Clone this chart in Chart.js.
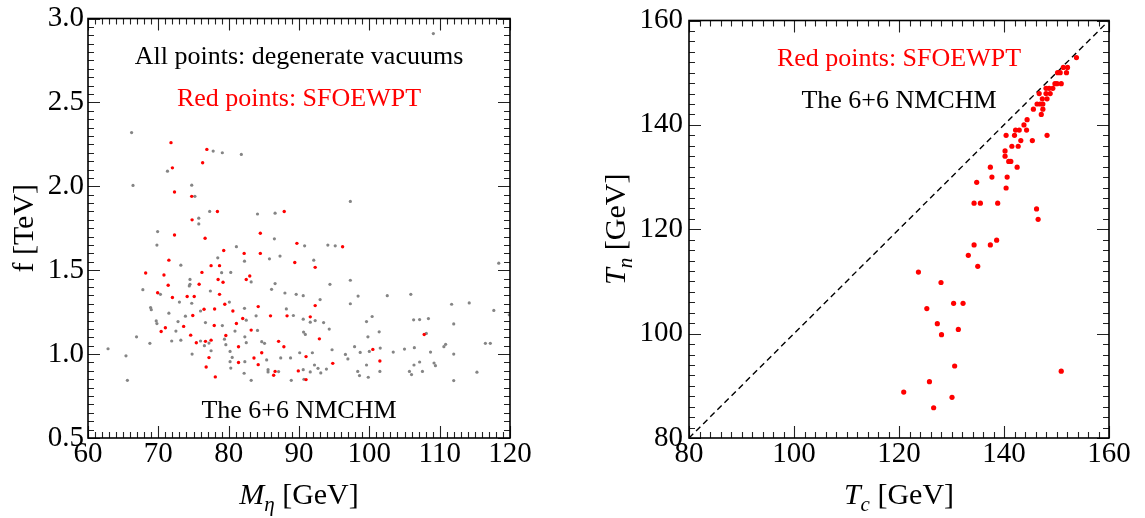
<!DOCTYPE html>
<html>
<head>
<meta charset="utf-8">
<script src="https://cdn.jsdelivr.net/npm/chart.js@4"></script>
<style>
  body { margin: 0; background: #fff; }
  #wrap { position: relative; width: 1145px; height: 518px; }
  #left { position: absolute; left: 0; top: 0; }
  #right { position: absolute; left: 572px; top: 0; }
</style>
</head>
<body>
<div id="wrap">
  <canvas id="left" width="572" height="518"></canvas>
  <canvas id="right" width="573" height="518"></canvas>
</div>
<script>
// Left panel: scan points, mass of eta [GeV] vs f [TeV]
const grayMass = [109.1, 66.2, 77.8, 79.1, 81.8, 71.3, 66.4, 74.75, 75.2, 77.3, 86.6, 84.1, 97.3, 75.75, 75.75,
  69.9, 86.5, 69.8, 81.1, 90.8, 94.1, 95.15, 87.3, 85.8, 78.45, 82.25, 92.1, 73.2, 118.4, 79.0, 80.3, 83.2,
  74.5, 74.5, 74.4, 86.6, 94.4, 97.3, 86.1, 67.8, 77.4, 70.3, 88.0, 89.6, 90.6, 98.4, 102.55, 105.9, 93.0,
  73.0, 80.1, 74.75, 97.3, 111.7, 114.2, 68.9, 69.0, 82.25, 88.2, 117.7, 76.0, 71.5, 73.85, 83.9, 89.2, 82.5,
  100.4, 107.15, 108.4, 106.3, 90.6, 69.7, 72.8, 91.6, 92.3, 93.5, 99.6, 112.0, 76.7, 69.8, 79.1, 72.5, 84.1,
  94.3, 101.4, 80.9, 90.65, 90.9, 108.1, 66.9, 82.3, 99.8, 73.2, 71.9, 79.4, 76.0, 77.2, 68.8, 82.5, 84.7,
  85.1, 79.6, 76.55, 110.85, 110.6, 62.85, 97.9, 101.55, 105.0, 106.4, 116.5, 117.2, 77.5, 94.7, 100.0, 80.2,
  90.1, 91.9, 96.6, 98.7, 103.4, 108.7, 112.0, 74.8, 65.4, 80.5, 87.4, 96.95, 88.8, 85.4, 80.2, 82.3, 107.15,
  109.2, 109.4, 92.2, 106.35, 99.6, 80.3, 92.7, 93.9, 85.6, 90.6, 98.35, 101.5, 105.7, 107.55, 115.3, 85.6,
  87.1, 91.6, 93.1, 82.2, 106.0, 98.6, 99.85, 65.6, 83.2, 88.9, 90.7, 112.0, 119.9];
const grayF = [2.91, 2.32, 2.21, 2.20, 2.19, 2.09, 2.005, 2.007, 1.94, 1.85, 1.84, 1.835, 1.91, 1.81, 1.776,
  1.73, 1.687, 1.65, 1.64, 1.645, 1.65, 1.645, 1.584, 1.568, 1.574, 1.554, 1.56, 1.53, 1.542, 1.485, 1.487, 1.43,
  1.445, 1.416, 1.406, 1.42, 1.416, 1.44, 1.386, 1.384, 1.376, 1.356, 1.364, 1.356, 1.348, 1.346, 1.348, 1.356, 1.325,
  1.31, 1.31, 1.303, 1.30, 1.297, 1.305, 1.277, 1.265, 1.273, 1.269, 1.26, 1.257, 1.244, 1.226, 1.228, 1.23, 1.202,
  1.224, 1.206, 1.212, 1.204, 1.208, 1.198, 1.194, 1.19, 1.20, 1.188, 1.194, 1.18, 1.188, 1.182, 1.17, 1.137, 1.141,
  1.149, 1.133, 1.137, 1.131, 1.117, 1.123, 1.103, 1.103, 1.103, 1.083, 1.078, 1.089, 1.078, 1.066, 1.064, 1.068, 1.074,
  1.064, 1.056, 1.05, 1.058, 1.044, 1.032, 1.044, 1.036, 1.03, 1.038, 1.064, 1.064, 1.02, 1.026, 1.016, 1.016,
  1.008, 1.008, 0.998, 1.01, 1.012, 1.012, 1.0, 1.0, 0.99, 0.98, 0.977, 0.971, 0.977, 0.965, 0.955, 0.955, 0.953,
  0.947, 0.931, 0.935, 0.935, 0.935, 0.917, 0.915, 0.911, 0.907, 0.907, 0.897, 0.897, 0.897, 0.897, 0.892, 0.894,
  0.896, 0.894, 0.888, 0.886, 0.878, 0.872, 0.862, 0.844, 0.844, 0.844, 0.85, 0.842, 1.234];

// SFOEWPT subset
const redMass = [71.8, 76.9, 76.3, 72.0, 72.3, 74.75, 78.4, 87.9, 74.8, 72.3, 84.5, 76.65, 89.7, 96.2, 79.3,
  82.2, 84.5, 71.5, 89.4, 77.5, 78.7, 92.3, 68.2, 76.2, 70.8, 83.0, 82.5, 78.5, 79.2, 75.8, 71.4, 69.9, 78.7,
  74.1, 75.1, 72.0, 79.45, 92.3, 84.2, 76.5, 78.0, 80.6, 85.95, 88.3, 74.9, 91.6, 82.0, 81.1, 73.6, 77.95, 71.0,
  70.4, 83.2, 107.8, 74.6, 79.6, 92.9, 77.5, 87.1, 75.4, 76.7, 81.4, 87.85, 100.5, 84.7, 77.2, 91.0, 83.6,
  101.5, 81.4, 94.8, 84.2, 76.8, 89.9, 86.6, 86.4, 78.1, 91.0];
const redF = [2.26, 2.22, 2.14, 2.11, 1.966, 1.94, 1.85, 1.85, 1.80, 1.71, 1.72, 1.69, 1.66, 1.64, 1.617,
  1.60, 1.60, 1.56, 1.546, 1.527, 1.527, 1.517, 1.483, 1.487, 1.471, 1.465, 1.445, 1.445, 1.428, 1.416, 1.41, 1.366, 1.356,
  1.343, 1.343, 1.337, 1.297, 1.289, 1.283, 1.267, 1.269, 1.257, 1.228, 1.228, 1.23, 1.222, 1.212, 1.182, 1.165, 1.17, 1.157,
  1.135, 1.143, 1.117, 1.113, 1.111, 1.091, 1.083, 1.076, 1.068, 1.076, 1.044, 1.044, 1.028, 1.008, 0.979, 0.985, 0.977,
  0.959, 0.95, 0.945, 0.937, 0.923, 0.9, 0.897, 0.874, 0.864, 0.848];

// Right panel: critical vs nucleation temperature [GeV]
const critTemp = [153.8, 151.3, 152.1, 150.2, 150.7, 151.9, 149.7, 150.1, 150.9, 149.3, 148.0, 148.6, 146.7, 148.0,
  148.8, 147.3, 148.2, 146.3, 146.9, 147.4, 145.6, 147.4, 147.1, 144.4, 143.8, 142.2, 142.9, 144.3, 140.4, 142.0,
  148.2, 143.2, 145.4, 141.5, 142.7, 140.2, 140.2, 140.9, 141.3, 137.4, 142.5, 137.7, 140.6, 134.8, 140.4, 134.3,
  135.5, 138.8, 146.2, 146.5, 134.3, 137.4, 138.6, 133.2, 135.0, 123.7, 128.0, 130.4, 132.2, 125.3, 127.3, 131.3,
  128.1, 130.6, 150.9, 125.8, 120.9, 130.1, 126.6];
const nuclTemp = [152.9, 151.0, 151.0, 150.0, 150.0, 150.0, 147.9, 147.9, 147.9, 147.0, 147.0, 147.0, 146.0, 146.0,
  146.0, 145.0, 145.0, 144.0, 144.0, 144.0, 143.0, 143.0, 142.0, 141.0, 140.0, 139.0, 139.0, 139.0, 138.0, 138.0,
  138.0, 137.0, 137.0, 135.9, 135.9, 135.0, 134.0, 133.0, 133.0, 131.9, 131.9, 130.0, 130.0, 129.0, 127.9, 125.0,
  125.0, 125.0, 123.9, 121.9, 117.0, 117.0, 117.9, 115.0, 112.9, 111.8, 109.8, 105.8, 105.8, 104.8, 101.9, 100.8,
  99.8, 93.8, 92.8, 90.8, 88.8, 87.8, 85.8];
const diagonal = [80, 160];

const SERIF = '"Liberation Serif", "Times New Roman", serif';
Chart.defaults.font.family = SERIF;
Chart.defaults.color = '#000';

const pts = (xs, ys) => xs.map((v, i) => ({ x: v, y: ys[i] }));

function stepsBetween(min, max, step) {
  const out = [];
  const n = Math.round((max - min) / step);
  for (let i = 0; i <= n; i++) out.push(min + i * step);
  return out;
}

// rich text: italic letters and subscripts for axis titles
function drawRich(ctx, parts, cx, cy, angle) {
  ctx.save();
  ctx.translate(cx, cy);
  ctx.rotate(angle);
  const fontOf = p => (p.italic ? 'italic ' : '') + (p.sub ? 21 : 30) + 'px ' + SERIF;
  let total = 0;
  parts.forEach(p => { ctx.font = fontOf(p); total += ctx.measureText(p.text).width; });
  let pos = -total / 2;
  ctx.fillStyle = '#000';
  ctx.textBaseline = 'alphabetic';
  ctx.textAlign = 'left';
  parts.forEach(p => {
    ctx.font = fontOf(p);
    ctx.fillText(p.text, pos, p.sub ? 17 : 10);
    pos += ctx.measureText(p.text).width;
  });
  ctx.restore();
}

// boxed frame with inward ticks on all four sides, titles and notes
const framePlugin = {
  id: 'frame',
  afterDatasetsDraw(chart, args, opts) {
    const { ctx, chartArea: a, scales: { x, y } } = chart;
    ctx.save();
    ctx.strokeStyle = '#222';
    ctx.lineWidth = 1.1;
    const isMajor = (scale, v, step) => scale.ticks.some(t => Math.abs(t.value - v) < step / 2);
    stepsBetween(x.min, x.max, opts.xMinor).forEach(v => {
      const px = Math.round(x.getPixelForValue(v)) + 0.5;
      const len = isMajor(x, v, opts.xMinor) ? 12 : 6;
      ctx.beginPath();
      ctx.moveTo(px, a.bottom); ctx.lineTo(px, a.bottom - len);
      ctx.moveTo(px, a.top); ctx.lineTo(px, a.top + len);
      ctx.stroke();
    });
    stepsBetween(y.min, y.max, opts.yMinor).forEach(v => {
      const py = Math.round(y.getPixelForValue(v)) + 0.5;
      const len = isMajor(y, v, opts.yMinor) ? 12 : 6;
      ctx.beginPath();
      ctx.moveTo(a.left, py); ctx.lineTo(a.left + len, py);
      ctx.moveTo(a.right, py); ctx.lineTo(a.right - len, py);
      ctx.stroke();
    });
    ctx.strokeStyle = '#000';
    ctx.lineWidth = 1.6;
    ctx.strokeRect(a.left, a.top, a.right - a.left, a.bottom - a.top);

    const cx = (a.left + a.right) / 2;
    drawRich(ctx, opts.xTitle, cx, opts.xTitleY, 0);
    drawRich(ctx, opts.yTitle, opts.yTitleX, (a.top + a.bottom) / 2, -Math.PI / 2);

    ctx.font = '26px ' + SERIF;
    ctx.textAlign = 'center';
    ctx.textBaseline = 'middle';
    opts.notes.forEach(n => {
      ctx.fillStyle = n.color;
      ctx.fillText(n.text, cx, n.y);
    });
    ctx.restore();
  }
};

function axisOptions(min, max, step, pad, fmt) {
  return {
    type: 'linear', min, max,
    grid: { display: false, drawTicks: false },
    border: { display: false },
    ticks: {
      stepSize: step, padding: pad, color: '#000',
      font: { family: SERIF, size: 29, lineHeight: 1 },
      callback: fmt || (v => String(v))
    }
  };
}

new Chart(document.getElementById('left'), {
  type: 'scatter',
  data: {
    datasets: [
      { data: pts(redMass, redF), backgroundColor: '#ff0000', borderWidth: 0, pointRadius: 1.7 },
      { data: pts(grayMass, grayF), backgroundColor: '#858585', borderWidth: 0, pointRadius: 1.6 }
    ]
  },
  options: {
    responsive: false, animation: false,
    layout: { padding: { top: 16, right: 62, left: 0, bottom: 0 } },
    scales: {
      x: Object.assign(axisOptions(60, 120, 10, 2), { afterFit(s) { s.height = 80; } }),
      y: Object.assign(axisOptions(0.5, 3.0, 0.5, 4, v => v.toFixed(1)), { afterFit(s) { s.width = 88; } })
    },
    plugins: {
      legend: { display: false }, tooltip: { enabled: false },
      frame: {
        xMinor: 1, yMinor: 0.05,
        xTitle: [{ text: 'M', italic: true }, { text: 'η', italic: true, sub: true }, { text: ' [GeV]' }],
        xTitleY: 494,
        yTitle: [{ text: 'f [TeV]' }],
        yTitleX: 23,
        notes: [
          { text: 'All points: degenerate vacuums', color: '#000', y: 57 },
          { text: 'Red points: SFOEWPT', color: '#ff0000', y: 99 },
          { text: 'The 6+6 NMCHM', color: '#000', y: 411 }
        ]
      }
    }
  },
  plugins: [framePlugin]
});

new Chart(document.getElementById('right'), {
  type: 'scatter',
  data: {
    datasets: [
      { data: pts(critTemp, nuclTemp), backgroundColor: '#ff0000', borderWidth: 0, pointRadius: 2.6 },
      {
        data: pts(diagonal, diagonal), showLine: true, pointRadius: 0,
        borderColor: '#000', borderWidth: 1.4, borderDash: [6, 4]
      }
    ]
  },
  options: {
    responsive: false, animation: false,
    layout: { padding: { top: 19, right: 36, left: 0, bottom: 0 } },
    scales: {
      x: Object.assign(axisOptions(80, 160, 20, 2), { afterFit(s) { s.height = 80; } }),
      y: Object.assign(axisOptions(80, 160, 20, 6), { afterFit(s) { s.width = 117; } })
    },
    plugins: {
      legend: { display: false }, tooltip: { enabled: false },
      frame: {
        xMinor: 2, yMinor: 2,
        xTitle: [{ text: 'T', italic: true }, { text: 'c', italic: true, sub: true }, { text: ' [GeV]' }],
        xTitleY: 494,
        yTitle: [{ text: 'T', italic: true }, { text: 'n', italic: true, sub: true }, { text: ' [GeV]' }],
        yTitleX: 43,
        notes: [
          { text: 'Red points: SFOEWPT', color: '#ff0000', y: 59 },
          { text: 'The 6+6 NMCHM', color: '#000', y: 101 }
        ]
      }
    }
  },
  plugins: [framePlugin]
});
</script>
</body>
</html>
